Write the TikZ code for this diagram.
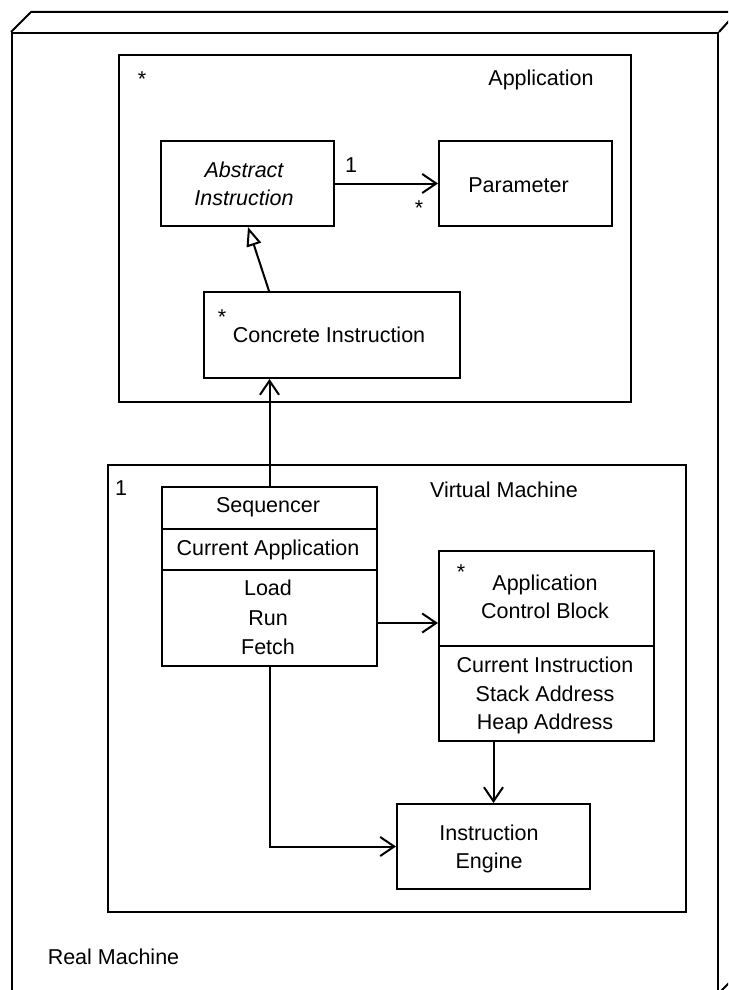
\documentclass[tikz,border=0pt]{standalone}
\usepackage{fontspec}
\setmainfont{Liberation Sans}
\usetikzlibrary{arrows.meta}
\begin{document}
\begin{tikzpicture}[x=1pt,y=-1pt, line width=2pt, line join=miter,
  box/.style={draw, rectangle, inner sep=0pt, line width=2pt},
  txt/.style={anchor=base, inner sep=0pt, font=\fontsize{21.5}{26}\selectfont},
  itxt/.style={txt, font=\fontsize{21.5}{26}\selectfont\itshape},
  assoc/.style={-{Straight Barb[length=14pt,width=19pt,line width=2pt]}},
  gen/.style={-{Triangle[open,length=19pt,width=15pt,line width=2pt]}}]
\fill[white] (0,0) rectangle (728,990);
\clip (0,0) rectangle (728,990);

% Real machine (3D box)
\node[box, minimum width=706pt, minimum height=959pt] (rm) at (365,512.5) {};
\draw (rm.north west) -- ++(20,-20) -- ++(706,0) -- (rm.north east);
\draw ([xshift=20pt,yshift=20pt]rm.north east) -- ([xshift=20pt,yshift=20pt]rm.south east) -- (rm.south east);
\node[txt] (rmlabel) at (113.5,964.5) {Real Machine};

% Application
\node[box, minimum width=512pt, minimum height=347pt] (app) at (375,228.5) {};
\node[txt] (applabel) at (541,85.5) {Application};
\node[txt] (appmult) at (142,86) {*};

\node[box, minimum width=173pt, minimum height=85pt] (abs) at (247.5,183.5) {};
\node[itxt] (abs1) at (244,177.5) {Abstract};
\node[itxt] (abs2) at (244,205.5) {Instruction};

\node[box, minimum width=173pt, minimum height=85pt] (par) at (525.5,183.5) {};
\node[txt] (partxt) at (518.5,192.5) {Parameter};

\node[txt] (m1) at (351,172.5) {1};
\node[txt] (m2) at (419,215) {*};

\node[box, minimum width=256pt, minimum height=86pt] (conc) at (332,335) {};
\node[txt] (concmult) at (222,324) {*};
\node[txt] (conctxt) at (329,342) {Concrete Instruction};

% Virtual machine
\node[box, minimum width=578pt, minimum height=447pt] (vm) at (397,688.5) {};
\node[txt] (vmlabel) at (504,497.5) {Virtual Machine};
\node[txt] (vmmult) at (121,495.5) {1};

\node[box, minimum width=215pt, minimum height=179pt] (seq) at (269.5,576.5) {};
\draw (seq.west |- 0,529) -- (seq.east |- 0,529);
\draw (seq.west |- 0,570) -- (seq.east |- 0,570);
\node[txt] (seq1) at (268,512.5) {Sequencer};
\node[txt] (seq2) at (268,555.5) {Current Application};
\node[txt] (seq3) at (268,595.5) {Load};
\node[txt] (seq4) at (268,625.5) {Run};
\node[txt] (seq5) at (268,654.5) {Fetch};

\node[box, minimum width=215pt, minimum height=190pt] (acb) at (546.5,646) {};
\draw (acb.west |- 0,646) -- (acb.east |- 0,646);
\node[txt] (acbmult) at (461,579) {*};
\node[txt] (acb1) at (545,590.5) {Application};
\node[txt] (acb2) at (545,618.5) {Control Block};
\node[txt] (acb3) at (545,672.5) {Current Instruction};
\node[txt] (acb4) at (545,701.5) {Stack Address};
\node[txt] (acb5) at (545,729.5) {Heap Address};

\node[box, minimum width=193pt, minimum height=85pt] (ie) at (493.5,846.5) {};
\node[txt] (ie1) at (489,840.5) {Instruction};
\node[txt] (ie2) at (489,868.5) {Engine};

% Connectors
\draw[assoc] (abs.east) -- (par.west);
\draw[gen] ([xshift=66pt]conc.north west) -- ([xshift=88pt]abs.south west);
\draw[assoc] (seq.north) -- (seq.north |- conc.south);
\draw[assoc] ([yshift=-46.5pt]seq.east) -- ([yshift=-46.5pt]seq.east -| acb.west);
\draw[assoc] (acb.south -| ie.north) -- (ie.north);
\draw[assoc] (seq.south) |- (ie.west);
\end{tikzpicture}
\end{document}
